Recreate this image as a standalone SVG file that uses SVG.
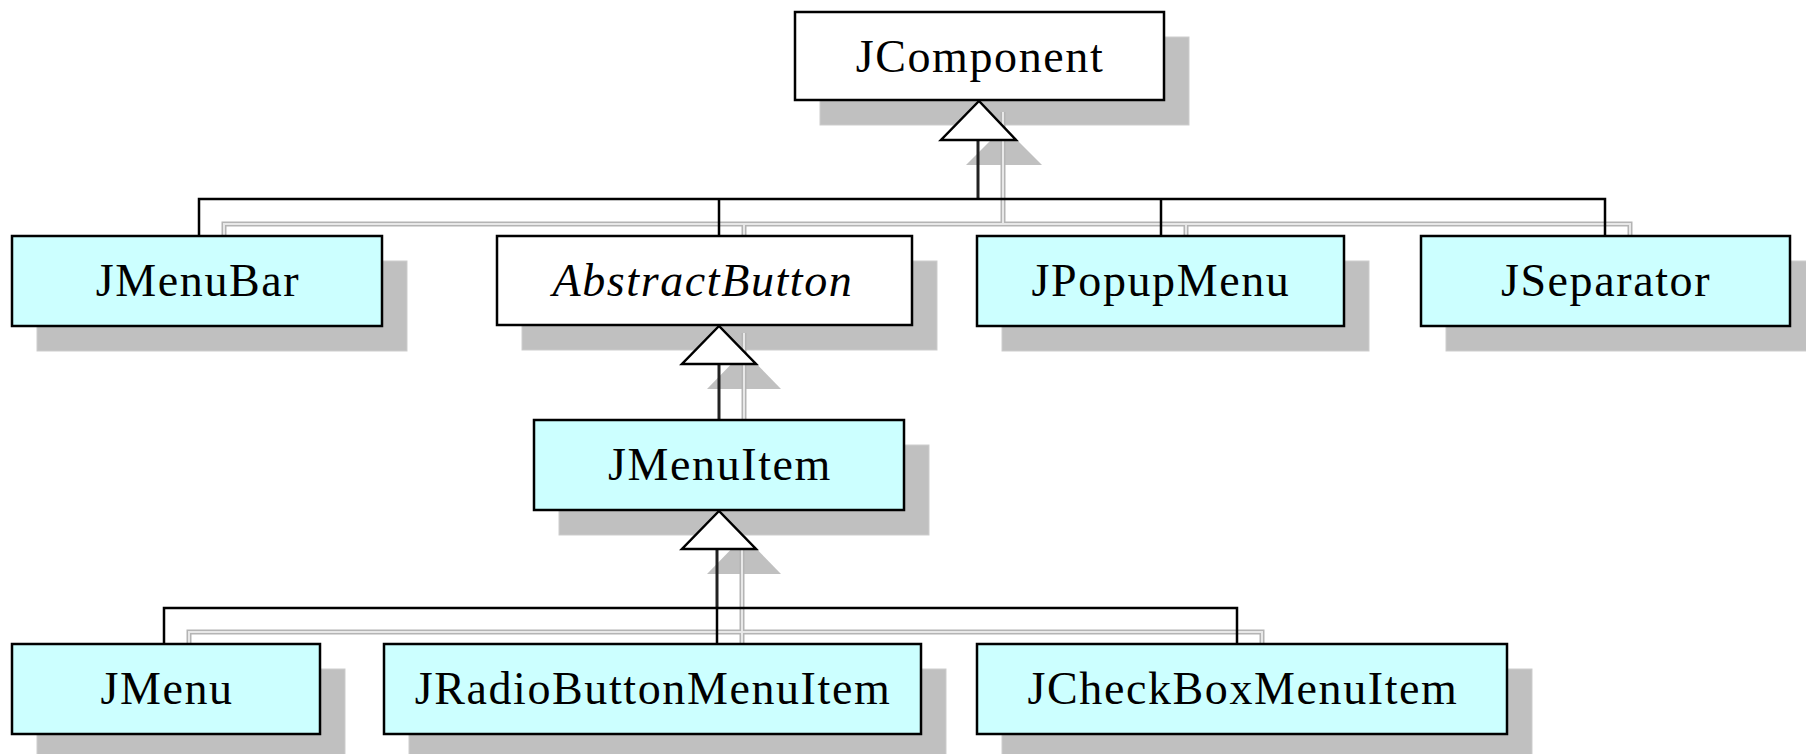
<svg xmlns="http://www.w3.org/2000/svg" xmlns:xlink="http://www.w3.org/1999/xlink" width="1806" height="754" viewBox="0 0 1806 754">
<style>
.bg{fill:#ffffff}
.shadow{fill:#c0c0c0;stroke:#cdcdcd;stroke-width:1}
.box{stroke:#000;stroke-width:2.5}
.white{fill:#ffffff}
.cyan{fill:#ccffff}
.lbl{font-family:"Liberation Serif","Times New Roman",serif;font-size:46px;letter-spacing:1.6px;fill:#000;text-anchor:middle}
.ital{font-style:italic}
.line{fill:none;stroke:#000;stroke-width:2.5;stroke-linejoin:miter}
.stem{fill:none;stroke:#222;stroke-width:3}
.tri{fill:#ffffff;stroke:#000;stroke-width:2.5;stroke-linejoin:miter}
.shtri{fill:#c0c0c0}
.shOuter{fill:none;stroke:#b4b4b4;stroke-width:5}
.shInner{fill:none;stroke:#e8e8e8;stroke-width:2}
</style>
<defs>
<path id="shTop" d="M1003,112 V224 M224,261 V224 H1630 V261 M744,224 V261 M1186,224 V261"/>
<path id="shMid" d="M744,333 V445"/>
<path id="shBot" d="M742,540 V669 M189,669 V632 H1262 V669"/>
</defs>
<rect class="bg" x="0" y="0" width="1806" height="754"/>
<g id="shadows">
<rect class="shadow" x="820" y="37" width="369" height="88"/>
<rect class="shadow" x="37" y="261" width="370" height="90"/>
<rect class="shadow" x="522" y="261" width="415" height="89"/>
<rect class="shadow" x="1002" y="261" width="367" height="90"/>
<rect class="shadow" x="1446" y="261" width="369" height="90"/>
<rect class="shadow" x="559" y="445" width="370" height="90"/>
<rect class="shadow" x="37" y="669" width="308" height="90"/>
<rect class="shadow" x="409" y="669" width="537" height="90"/>
<rect class="shadow" x="1002" y="669" width="530" height="90"/>
</g>
<g id="connectors">
<g id="connector-shadows">
<polygon class="shtri" points="1004,127 966,165 1042,165"/>
<polygon class="shtri" points="744,351 707,389 781,389"/>
<polygon class="shtri" points="744,536 707,574 781,574"/>
<use xlink:href="#shTop" class="shOuter"/>
<use xlink:href="#shTop" class="shInner"/>
<use xlink:href="#shMid" class="shOuter"/>
<use xlink:href="#shMid" class="shInner"/>
<use xlink:href="#shBot" class="shOuter"/>
<use xlink:href="#shBot" class="shInner"/>
</g>
<path class="stem" d="M978,140 V199"/>
<path class="line" d="M199,236 V199 H1605 V236 M719,199 V236 M1161,199 V236"/>
<path class="stem" d="M719,364 V420"/>
<path class="stem" d="M717,549 V608"/>
<path class="line" d="M164,644 V608 H1237 V644 M717,608 V644"/>
<polygon class="tri" points="979,101 941,140 1016,140"/>
<polygon class="tri" points="719,326 682,364 756,364"/>
<polygon class="tri" points="719,511 682,549 756,549"/>
</g>
<g id="JComponent">
<rect class="box white" x="795" y="12" width="369" height="88"/>
<text class="lbl" x="980" y="72">JComponent</text>
</g>
<g id="JMenuBar">
<rect class="box cyan" x="12" y="236" width="370" height="90"/>
<text class="lbl" x="198" y="296">JMenuBar</text>
</g>
<g id="AbstractButton">
<rect class="box white" x="497" y="236" width="415" height="89"/>
<text class="lbl ital" x="703" y="296">AbstractButton</text>
</g>
<g id="JPopupMenu">
<rect class="box cyan" x="977" y="236" width="367" height="90"/>
<text class="lbl" x="1161" y="296">JPopupMenu</text>
</g>
<g id="JSeparator">
<rect class="box cyan" x="1421" y="236" width="369" height="90"/>
<text class="lbl" x="1606" y="296">JSeparator</text>
</g>
<g id="JMenuItem">
<rect class="box cyan" x="534" y="420" width="370" height="90"/>
<text class="lbl" x="720" y="480">JMenuItem</text>
</g>
<g id="JMenu">
<rect class="box cyan" x="12" y="644" width="308" height="90"/>
<text class="lbl" x="167" y="704">JMenu</text>
</g>
<g id="JRadioButtonMenuItem">
<rect class="box cyan" x="384" y="644" width="537" height="90"/>
<text class="lbl" x="653" y="704">JRadioButtonMenuItem</text>
</g>
<g id="JCheckBoxMenuItem">
<rect class="box cyan" x="977" y="644" width="530" height="90"/>
<text class="lbl" x="1243" y="704">JCheckBoxMenuItem</text>
</g>
</svg>
